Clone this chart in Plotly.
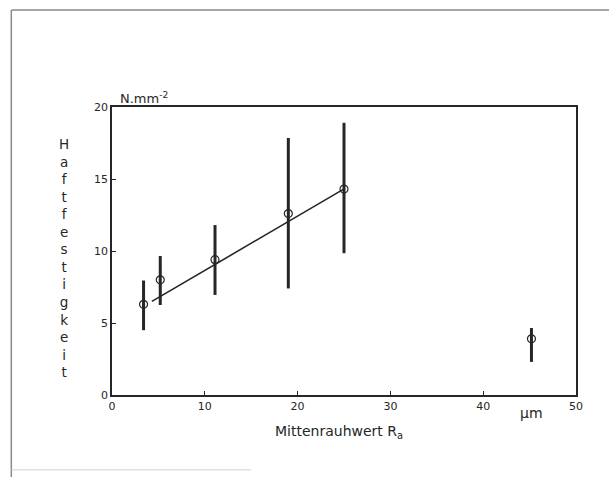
import plotly.graph_objects as go

# Data
ra = [3.4, 5.2, 11.1, 19.0, 25.0, 45.2]            # Mittenrauhwert Ra (µm)
strength = [6.3, 8.0, 9.4, 12.6, 14.3, 3.9]        # Haftfestigkeit (N/mm²)
err_plus = [1.65, 1.65, 2.4, 5.25, 4.6, 0.75]
err_minus = [1.8, 1.75, 2.45, 5.2, 4.45, 1.6]

fit_x = [4.3, 25.1]
fit_y = [6.5, 14.35]

x_ticks = [0, 10, 20, 30, 40, 50]
y_ticks = [0, 5, 10, 15, 20]

ink = "#262626"
font = "DejaVu Sans"

fig = go.Figure()
fig.add_trace(go.Scatter(
    x=fit_x, y=fit_y, mode="lines",
    line=dict(color=ink, width=1.6), hoverinfo="skip", showlegend=False))
fig.add_trace(go.Scatter(
    x=ra, y=strength, mode="markers",
    marker=dict(symbol="circle-open", size=8, color=ink, line=dict(width=1.2, color=ink)),
    error_y=dict(type="data", symmetric=False, array=err_plus, arrayminus=err_minus,
                 color=ink, thickness=3, width=0),
    showlegend=False))

axis_common = dict(showgrid=False, zeroline=False, showline=True, mirror=True,
                   linecolor=ink, linewidth=1.5, ticks="inside", ticklen=4,
                   tickcolor=ink, tickwidth=1.2,
                   tickfont=dict(family=font, size=11, color=ink))

fig.update_xaxes(range=[0, 50], tickvals=x_ticks, ticktext=[str(v) for v in x_ticks], **axis_common)
fig.update_yaxes(range=[0, 20], tickvals=y_ticks, ticktext=[str(v) for v in y_ticks], **axis_common)

annotations = [
    dict(text="Mittenrauhwert R<sub>a</sub>", x=0.49, y=-0.13, xref="paper", yref="paper",
         xanchor="center", yanchor="middle", showarrow=False,
         font=dict(family=font, size=14, color=ink)),
    dict(text="µm", x=0.905, y=-0.063, xref="paper", yref="paper",
         xanchor="center", yanchor="middle", showarrow=False,
         font=dict(family=font, size=14, color=ink)),
    dict(text="N.mm<sup>-2</sup>", x=0.012, y=1.03, xref="paper", yref="paper",
         xanchor="left", yanchor="middle", showarrow=False,
         font=dict(family=font, size=13, color=ink)),
    dict(text="<br>".join(list("Haftfestigkeit")), x=-0.103, y=0.475, xref="paper", yref="paper",
         xanchor="center", yanchor="middle", showarrow=False, align="center",
         font=dict(family=font, size=13.5, color=ink)),
]

shapes = [
    # outer figure frame (scan border)
    dict(type="line", xref="paper", yref="paper", x0=-0.217, x1=1.1, y0=1.337, y1=1.337,
         line=dict(color="#8a8a8a", width=1.5)),
    dict(type="line", xref="paper", yref="paper", x0=-0.217, x1=-0.217, y0=1.337, y1=-0.3,
         line=dict(color="#8a8a8a", width=1.5)),
    dict(type="line", xref="paper", yref="paper", x0=-0.217, x1=0.3, y0=-0.26, y1=-0.26,
         line=dict(color="#d0d0d0", width=1)),
]

fig.update_layout(
    width=609, height=477,
    margin=dict(l=112, r=33, t=107, b=82),
    paper_bgcolor="white", plot_bgcolor="white",
    annotations=annotations, shapes=shapes,
)

fig.write_html("out.html")
